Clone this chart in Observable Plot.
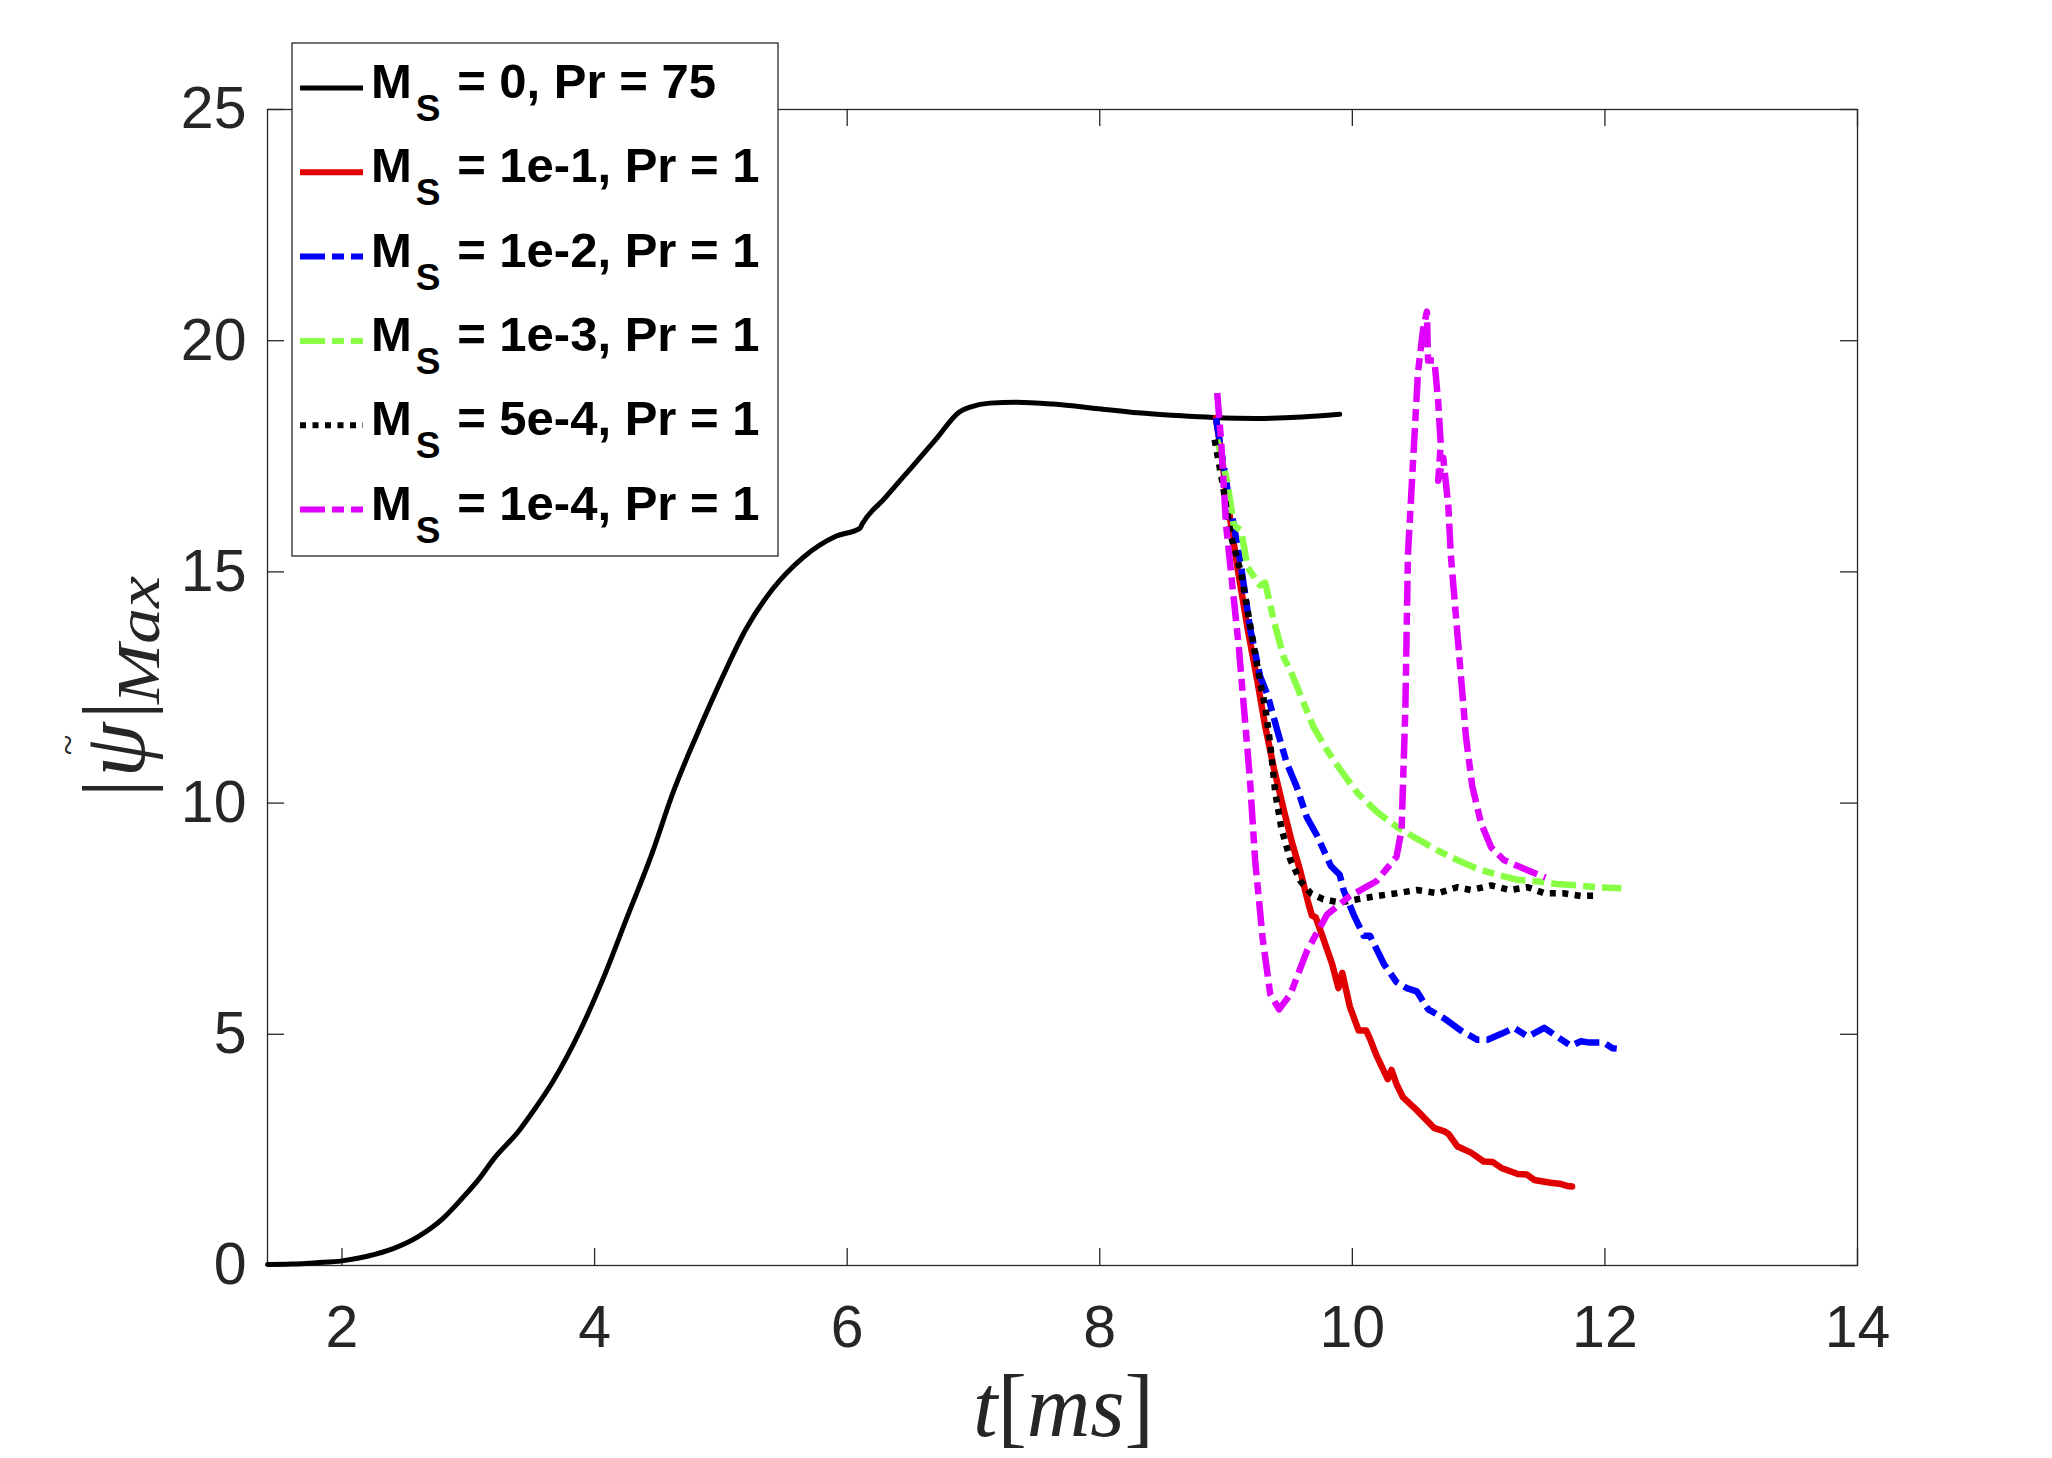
<!DOCTYPE html>
<html><head><meta charset="utf-8">
<script src="https://cdn.jsdelivr.net/npm/d3@7"></script>
<script src="https://cdn.jsdelivr.net/npm/@observablehq/plot@0.6"></script>
<style>
html,body{margin:0;padding:0;background:#fff;}
#wrap{position:relative;width:2052px;height:1458px;overflow:hidden;background:#fff;}
#wrap svg{position:absolute;left:0;top:0;}
</style></head><body><div id="wrap"></div>
<script>
// ---- axis ticks ----
const xTicks = [2, 4, 6, 8, 10, 12, 14];
const yTicks = [0, 5, 10, 15, 20, 25];
const xDomain = [1.41, 14];
const yDomain = [0, 25];

// ---- series (t [ms], |psi|max) ----
const msZeroPr75 = [[1.41,0.02],[1.6,0.03],[1.8,0.06],[2.0,0.1],[2.2,0.2],[2.4,0.36],[2.6,0.62],[2.8,1.02],[2.95,1.45],[3.09,1.89],[3.2,2.3],[3.40,2.91],[3.53,3.4],[3.67,3.98],[3.88,5.05],[4.07,6.22],[4.25,7.48],[4.46,8.95],[4.62,10.22],[4.81,11.48],[4.99,12.59],[5.20,13.77],[5.41,14.63],[5.65,15.31],[5.91,15.77],[6.10,15.94],[6.12,16.04],[6.3,16.6],[6.5,17.23],[6.7,17.86],[6.89,18.46],[6.98,18.57],[7.13,18.65],[7.34,18.67],[7.63,18.63],[7.99,18.53],[8.3,18.44],[8.62,18.38],[8.9,18.34],[9.24,18.32],[9.6,18.35],[9.90,18.41]];
const msE1 = [[8.92,18.33],[8.96,17.61],[9.01,16.55],[9.09,15.10],[9.17,13.79],[9.25,12.61],[9.31,11.66],[9.38,10.74],[9.46,9.82],[9.52,9.17],[9.59,8.51],[9.65,7.85],[9.68,7.57],[9.71,7.53],[9.77,7.07],[9.84,6.52],[9.89,6.0],[9.92,6.33],[9.98,5.6],[10.05,5.08],[10.11,5.08],[10.14,4.9],[10.19,4.55],[10.28,4.03],[10.31,4.23],[10.35,3.92],[10.40,3.64],[10.51,3.36],[10.65,2.97],[10.73,2.90],[10.76,2.85],[10.83,2.58],[10.94,2.44],[11.04,2.25],[11.11,2.24],[11.18,2.11],[11.31,1.98],[11.38,1.97],[11.44,1.85],[11.57,1.79],[11.64,1.77],[11.70,1.72],[11.74,1.71]];
const msE2 = [[8.92,18.33],[9.01,16.81],[9.12,15.10],[9.19,13.79],[9.27,12.74],[9.33,12.33],[9.41,11.53],[9.48,10.87],[9.56,10.35],[9.64,9.69],[9.72,9.30],[9.83,8.64],[9.90,8.45],[9.93,8.12],[10.01,7.59],[10.09,7.13],[10.14,7.13],[10.25,6.52],[10.35,6.13],[10.43,6.0],[10.51,5.93],[10.60,5.54],[10.73,5.34],[10.86,5.08],[10.99,4.88],[11.07,4.88],[11.18,5.01],[11.28,5.14],[11.39,4.95],[11.46,5.05],[11.52,5.14],[11.62,4.95],[11.73,4.75],[11.81,4.85],[11.88,4.82],[11.99,4.82],[12.06,4.70],[12.13,4.68]];
const msE3 = [[8.93,17.86],[9.01,16.95],[9.06,16.02],[9.12,15.89],[9.17,15.10],[9.27,14.71],[9.31,14.77],[9.38,13.92],[9.46,13.13],[9.51,12.87],[9.59,12.33],[9.69,11.66],[9.80,11.14],[9.90,10.74],[10.04,10.22],[10.19,9.82],[10.35,9.49],[10.51,9.23],[10.68,8.97],[10.83,8.77],[10.99,8.58],[11.15,8.45],[11.31,8.34],[11.46,8.31],[11.62,8.25],[11.78,8.22],[11.94,8.18],[12.13,8.16]];
const ms5E4 = [[8.91,17.86],[8.97,16.95],[9.04,15.76],[9.12,14.97],[9.17,14.18],[9.22,13.40],[9.27,12.61],[9.31,12.09],[9.35,11.27],[9.39,10.22],[9.44,9.43],[9.51,8.77],[9.59,8.31],[9.67,8.05],[9.77,7.92],[9.90,7.85],[10.04,7.92],[10.19,7.99],[10.35,8.05],[10.51,8.12],[10.68,8.05],[10.83,8.18],[10.94,8.12],[11.10,8.22],[11.25,8.12],[11.39,8.18],[11.52,8.05],[11.67,8.05],[11.81,7.99],[11.94,8.0]];
const msE4 = [[8.93,18.87],[8.96,17.86],[9.00,16.02],[9.05,14.71],[9.10,13.40],[9.15,11.79],[9.19,10.48],[9.23,8.77],[9.29,7.07],[9.35,5.87],[9.42,5.54],[9.51,5.87],[9.64,6.80],[9.80,7.59],[9.98,7.99],[10.19,8.31],[10.35,8.84],[10.39,9.43],[10.42,12.05],[10.44,15.36],[10.48,17.35],[10.52,19.32],[10.56,20.24],[10.59,20.63],[10.60,19.57],[10.65,19.57],[10.68,18.67],[10.70,17.77],[10.68,16.97],[10.72,17.47],[10.76,16.42],[10.78,15.36],[10.82,14.05],[10.86,12.74],[10.90,11.42],[10.95,10.36],[11.02,9.56],[11.10,9.04],[11.20,8.77],[11.36,8.58],[11.53,8.39]];

// ---- legend labels ----
const legendValues = ["0, Pr = 75", "1e-1, Pr = 1", "1e-2, Pr = 1", "1e-3, Pr = 1", "5e-4, Pr = 1", "1e-4, Pr = 1"];

const dashDot = "25,7,12,7";
const dotted = "6,6.5";
const series = [
  {data: msZeroPr75, color: "#000000", width: 5, dash: null, curve: "monotone-x"},
  {data: msE1, color: "#e00000", width: 6.5, dash: null, curve: "linear"},
  {data: msE2, color: "#0000ff", width: 6.5, dash: dashDot, curve: "linear"},
  {data: msE3, color: "#88ff44", width: 6.5, dash: dashDot, curve: "linear"},
  {data: ms5E4, color: "#000000", width: 6.5, dash: dotted, curve: "linear"},
  {data: msE4, color: "#e000ff", width: 6.5, dash: dashDot, curve: "linear"}
];

const W = 2052, H = 1458;
const mL = 267, mR = 195, mT = 109, mB = 193;
const innerW = W - mL - mR, innerH = H - mT - mB;
const tickLen = 17;
const axisColor = "#262626";

const lineMarks = series.map(s => Plot.line(s.data, {
  x: d => d[0], y: d => d[1], stroke: s.color, strokeWidth: s.width,
  strokeDasharray: s.dash, strokeLinejoin: "round", strokeLinecap: s.dash ? "butt" : "round", curve: s.curve
}));

const chart = Plot.plot({
  width: W, height: H,
  marginLeft: mL, marginRight: mR, marginTop: mT, marginBottom: mB,
  x: {domain: xDomain, label: null},
  y: {domain: yDomain, label: null},
  style: {fontFamily: "'Liberation Sans', Arial, sans-serif", color: axisColor, background: "white", overflow: "visible"},
  marks: [
    Plot.axisX(xTicks, {tickSize: 0, tickPadding: 40, fontSize: 59, fill: axisColor, tickFormat: d => String(d)}),
    Plot.axisY(yTicks, {tickSize: 0, tickPadding: 21, fontSize: 59, fill: axisColor, tickFormat: d => String(d)}),
    Plot.tickX(xTicks, {insetTop: innerH - tickLen, stroke: axisColor, strokeWidth: 1.3}),
    Plot.tickX(xTicks, {insetBottom: innerH - tickLen, stroke: axisColor, strokeWidth: 1.3}),
    Plot.tickY(yTicks, {insetRight: innerW - tickLen, stroke: axisColor, strokeWidth: 1.3}),
    Plot.tickY(yTicks, {insetLeft: innerW - tickLen, stroke: axisColor, strokeWidth: 1.3}),
    Plot.frame({stroke: axisColor, strokeWidth: 1.3}),
    ...lineMarks
  ]
});
const wrap = document.getElementById("wrap");
wrap.appendChild(chart);

// ---- overlay: axis labels + legend ----
const svg = d3.select(wrap).append("svg")
  .attr("width", W).attr("height", H)
  .style("pointer-events", "none");

// x label  t[ms]
const xl = svg.append("text").attr("x", 973).attr("y", 1436)
  .attr("font-family", "'Liberation Serif', 'Times New Roman', serif")
  .attr("font-size", 88).attr("fill", axisColor);
xl.append("tspan").attr("font-style", "italic").text("t");
xl.append("tspan").text("[");
xl.append("tspan").attr("font-style", "italic").text("ms");
xl.append("tspan").text("]");

// y label |psi~|_Max (rotated)
const yl = svg.append("g").attr("transform", "translate(144,797) rotate(-90)")
  .attr("font-family", "'Liberation Serif', 'Times New Roman', serif").attr("fill", axisColor);
yl.append("text").attr("x", 0).attr("y", 0).attr("font-size", 88).text("|");
yl.append("text").attr("x", 47).attr("y", 0).attr("font-size", 88).attr("font-style", "italic").attr("text-anchor", "middle").text("ψ");
yl.append("text").attr("x", 52).attr("y", -64).attr("font-size", 38).attr("text-anchor", "middle").text("~");
yl.append("text").attr("x", 78).attr("y", 0).attr("font-size", 88).text("|");
yl.append("text").attr("x", 93).attr("y", 15).attr("font-size", 62).attr("font-style", "italic")
  .attr("textLength", 128).attr("lengthAdjust", "spacingAndGlyphs").text("Max");

// legend
const lg = svg.append("g").attr("transform", "translate(292,43)");
lg.append("rect").attr("x", 0).attr("y", 0).attr("width", 486).attr("height", 513)
  .attr("fill", "white").attr("stroke", axisColor).attr("stroke-width", 1.3);
const rowY0 = 45, rowStep = 84.3;
series.forEach((s, i) => {
  const y = rowY0 + i * rowStep;
  lg.append("line").attr("x1", 8).attr("x2", 71).attr("y1", y).attr("y2", y)
    .attr("stroke", s.color).attr("stroke-width", i === 0 ? 5 : 6)
    .attr("stroke-dasharray", s.dash);
  const t = lg.append("text").attr("x", 79).attr("y", y + 10)
    .attr("font-family", "'Liberation Sans', Arial, sans-serif").attr("font-weight", "bold")
    .attr("font-size", 49).attr("fill", "black");
  t.append("tspan").text("M");
  t.append("tspan").attr("font-size", 37).attr("dx", 4).attr("dy", 23).text("S");
  t.append("tspan").attr("dy", -23).attr("dx", 3).text(" = " + legendValues[i]);
});
</script></body></html>
